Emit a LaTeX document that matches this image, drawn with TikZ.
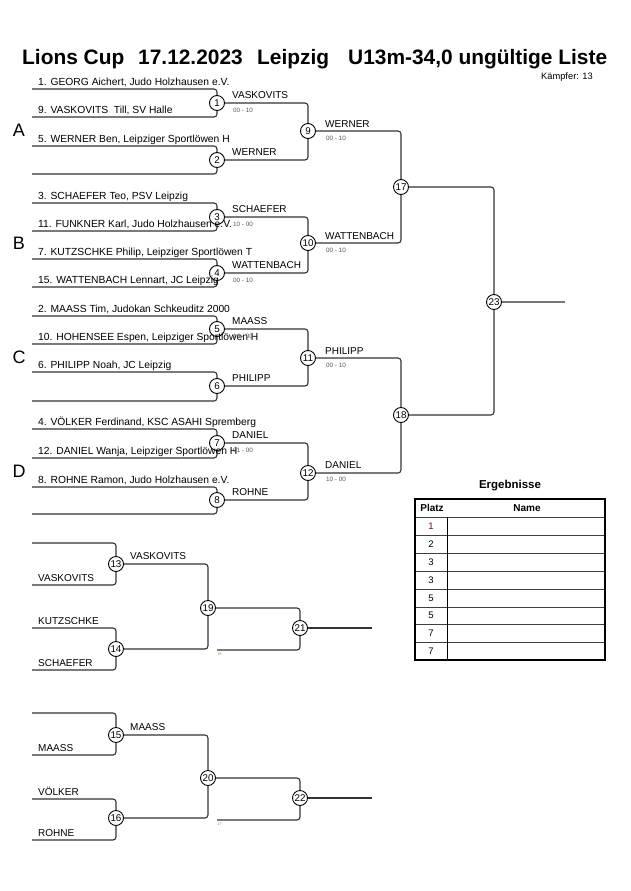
\documentclass[tikz,border=0pt]{standalone}
\usepackage{fontspec}
\setmainfont{Liberation Sans}
\definecolor{lgray}{HTML}{333333}
\definecolor{ogray}{HTML}{777777}
\definecolor{scg}{HTML}{555555}
\definecolor{maroon}{HTML}{800040}
\definecolor{tinyc}{HTML}{C08040}
\begin{document}
\begin{tikzpicture}[x=1pt,y=-1pt,
  ln/.style={draw=lgray, line width=1.1pt, rounded corners=3pt},
  circ/.style={circle, draw=black, fill=white, line width=0.9pt, minimum size=15pt, inner sep=0pt, font=\fontsize{9.8}{10}\selectfont},
  nm/.style={anchor=base west, inner sep=0pt, font=\fontsize{10.3}{11}\selectfont},
  wn/.style={anchor=base west, inner sep=0pt, font=\fontsize{10}{11}\selectfont},
  sc/.style={anchor=base west, inner sep=0pt, font=\fontsize{6.3}{7}\selectfont, text=scg},
  tiny/.style={anchor=base west, inner sep=0pt, font=\fontsize{4}{4}\selectfont, text=tinyc},
  pl/.style={inner sep=0pt, font=\fontsize{18}{18}\selectfont},
  ttl/.style={anchor=base west, inner sep=0pt, font=\fontsize{20.9}{22}\selectfont\bfseries},
  tb/.style={inner sep=0pt, font=\fontsize{9.5}{10}\selectfont},
  tbh/.style={inner sep=0pt, font=\fontsize{10}{11}\selectfont\bfseries}
]
\useasboundingbox[fill=white] (0,0) rectangle (630,891);

% Title
\node[ttl] (t1) at (22,65) {Lions Cup};
\node[ttl] (t2) at (138,65) {17.12.2023};
\node[ttl] (t3) at (257,65) {Leipzig};
\node[ttl] (t4) at (348,65) {U13m-34,0 ungültige Liste};
\node[anchor=base west, inner sep=0pt, font=\fontsize{9.3}{10}\selectfont] (kf) at (541,80) {Kämpfer: 13};

% Pool letters
\node[pl] (LA) at (19,130) {A};
\node[pl] (LB) at (19,243) {B};
\node[pl] (LC) at (19,357) {C};
\node[pl] (LD) at (19,471) {D};

% Circles main bracket
\node[circ] (c1) at (217,103) {1};
\node[circ] (c2) at (217,160) {2};
\node[circ] (c3) at (217,217) {3};
\node[circ] (c4) at (217,273) {4};
\node[circ] (c5) at (217,329) {5};
\node[circ] (c6) at (217,386) {6};
\node[circ] (c7) at (217,443) {7};
\node[circ] (c8) at (217,500) {8};
\node[circ] (c9) at (308,131) {9};
\node[circ] (c10) at (308,243) {10};
\node[circ] (c11) at (308,358) {11};
\node[circ] (c12) at (308,473) {12};
\node[circ] (c17) at (401,187) {17};
\node[circ] (c18) at (401,415) {18};
\node[circ] (c23) at (494,302) {23};
\coordinate (o23) at (565,302);

% left ends
\foreach \i/\y in {1/89,2/117,3/146,4/174,5/203,6/231,7/259,8/287,9/316,10/344,11/372,12/401,13/429,14/458,15/487,16/514}
  \coordinate (p\i) at (32,\y);

\draw[ln] (p1) -| (c1); \draw[ln] (p2) -| (c1);
\draw[ln] (p3) -| (c2); \draw[ln] (p4) -| (c2);
\draw[ln] (p5) -| (c3); \draw[ln] (p6) -| (c3);
\draw[ln] (p7) -| (c4); \draw[ln] (p8) -| (c4);
\draw[ln] (p9) -| (c5); \draw[ln] (p10) -| (c5);
\draw[ln] (p11) -| (c6); \draw[ln] (p12) -| (c6);
\draw[ln] (p13) -| (c7); \draw[ln] (p14) -| (c7);
\draw[ln] (p15) -| (c8); \draw[ln] (p16) -| (c8);

\draw[ln] (c1) -| (c9); \draw[ln] (c2) -| (c9);
\draw[ln] (c3) -| (c10); \draw[ln] (c4) -| (c10);
\draw[ln] (c5) -| (c11); \draw[ln] (c6) -| (c11);
\draw[ln] (c7) -| (c12); \draw[ln] (c8) -| (c12);
\draw[ln] (c9) -| (c17); \draw[ln] (c10) -| (c17);
\draw[ln] (c11) -| (c18); \draw[ln] (c12) -| (c18);
\draw[ln] (c17) -| (c23); \draw[ln] (c18) -| (c23);
\draw[draw=ogray, line width=1.5pt] (c23) -- (o23);

% competitor names
\node[nm] (n1) at (38,85) {1. GEORG Aichert, Judo Holzhausen e.V.};
\node[nm] (n2) at (38,113) {9. VASKOVITS\ \ Till, SV Halle};
\node[nm] (n3) at (38,142) {5. WERNER Ben, Leipziger Sportlöwen H};
\node[nm] (n5) at (38,199) {3. SCHAEFER Teo, PSV Leipzig};
\node[nm] (n6) at (38,227) {11. FUNKNER Karl, Judo Holzhausen e.V.};
\node[nm] (n7) at (38,255) {7. KUTZSCHKE Philip, Leipziger Sportlöwen T};
\node[nm] (n8) at (38,283) {15. WATTENBACH Lennart, JC Leipzig};
\node[nm] (n9) at (38,312) {2. MAASS Tim, Judokan Schkeuditz 2000};
\node[nm] (n10) at (38,340) {10. HOHENSEE Espen, Leipziger Sportlöwen H};
\node[nm] (n11) at (38,368) {6. PHILIPP Noah, JC Leipzig};
\node[nm] (n13) at (38,425) {4. VÖLKER Ferdinand, KSC ASAHI Spremberg};
\node[nm] (n14) at (38,454) {12. DANIEL Wanja, Leipziger Sportlöwen H};
\node[nm] (n15) at (38,483) {8. ROHNE Ramon, Judo Holzhausen e.V.};

% round 1 winners
\node[wn] (w1) at (232,98) {VASKOVITS};
\node[sc] (s1) at (233,112.5) {00 - 10};
\node[wn] (w2) at (232,155) {WERNER};
\node[wn] (w3) at (232,212) {SCHAEFER};
\node[sc] (s3) at (233,226.5) {10 - 00};
\node[wn] (w4) at (232,268) {WATTENBACH};
\node[sc] (s4) at (233,282.5) {00 - 10};
\node[wn] (w5) at (232,324) {MAASS};
\node[sc] (s5) at (233,338.5) {10 - 00};
\node[wn] (w6) at (232,381) {PHILIPP};
\node[wn] (w7) at (232,438) {DANIEL};
\node[sc] (s7) at (233,452.5) {01 - 00};
\node[wn] (w8) at (232,495) {ROHNE};

% round 2 winners
\node[wn] (w9) at (325,127) {WERNER};
\node[sc] (s9) at (326,140.5) {00 - 10};
\node[wn] (w10) at (325,239) {WATTENBACH};
\node[sc] (s10) at (326,252.5) {00 - 10};
\node[wn] (w11) at (325,354) {PHILIPP};
\node[sc] (s11) at (326,367.5) {00 - 10};
\node[wn] (w12) at (325,468) {DANIEL};
\node[sc] (s12) at (326,481.5) {10 - 00};

% repechage 1
\node[circ] (c13) at (116,564) {13};
\node[circ] (c14) at (116,649) {14};
\node[circ] (c19) at (208,608) {19};
\node[circ] (c21) at (300,628) {21};
\coordinate (q1) at (32,543); \coordinate (q2) at (32,585);
\coordinate (q3) at (32,628); \coordinate (q4) at (32,670);
\coordinate (f21) at (217,650); \coordinate (o21) at (372,628);
\draw[ln] (q1) -| (c13); \draw[ln] (q2) -| (c13);
\draw[ln] (q3) -| (c14); \draw[ln] (q4) -| (c14);
\draw[ln] (c13) -| (c19); \draw[ln] (c14) -| (c19);
\draw[ln] (c19) -| (c21); \draw[ln] (f21) -| (c21);
\draw[ln] (c21) -- (o21);
\node[wn] (m2) at (38,581) {VASKOVITS};
\node[wn] (m3) at (38,624) {KUTZSCHKE};
\node[wn] (m4) at (38,666) {SCHAEFER};
\node[wn] (w13) at (130,559) {VASKOVITS};
\node[tiny] (t18) at (217,655) {18};

% repechage 2
\node[circ] (c15) at (116,735) {15};
\node[circ] (c16) at (116,818) {16};
\node[circ] (c20) at (208,778) {20};
\node[circ] (c22) at (300,798) {22};
\coordinate (r1) at (32,713); \coordinate (r2) at (32,755);
\coordinate (r3) at (32,799); \coordinate (r4) at (32,840);
\coordinate (f22) at (217,820); \coordinate (o22) at (372,798);
\draw[ln] (r1) -| (c15); \draw[ln] (r2) -| (c15);
\draw[ln] (r3) -| (c16); \draw[ln] (r4) -| (c16);
\draw[ln] (c15) -| (c20); \draw[ln] (c16) -| (c20);
\draw[ln] (c20) -| (c22); \draw[ln] (f22) -| (c22);
\draw[ln] (c22) -- (o22);
\node[wn] (m6) at (38,751) {MAASS};
\node[wn] (m7) at (38,795) {VÖLKER};
\node[wn] (m8) at (38,836) {ROHNE};
\node[wn] (w15) at (130,730) {MAASS};
\node[tiny] (t17) at (217,825) {17};

% results table
\node[inner sep=0pt, font=\fontsize{11.5}{12}\selectfont\bfseries] (erg) at (510,486) {Ergebnisse};
\foreach \y in {517,535,553,571,589,607,624,642}
  \draw[black!75, line width=0.9pt] (415,\y) -- (605,\y);
\draw[black, line width=0.9pt] (447,517) -- (447,660);
\draw[black, line width=1.8pt] (415,499) rectangle (605,660);
\node[tbh] (hp) at (432,508) {Platz};
\node[tbh] (hn) at (527,508) {Name};
\node[tb, text=maroon] (k1) at (431,526) {1};
\node[tb] (k2) at (431,544) {2};
\node[tb] (k3) at (431,562) {3};
\node[tb] (k4) at (431,580) {3};
\node[tb] (k5) at (431,598) {5};
\node[tb] (k6) at (431,615.5) {5};
\node[tb] (k7) at (431,633) {7};
\node[tb] (k8) at (431,651) {7};
\end{tikzpicture}
\end{document}
